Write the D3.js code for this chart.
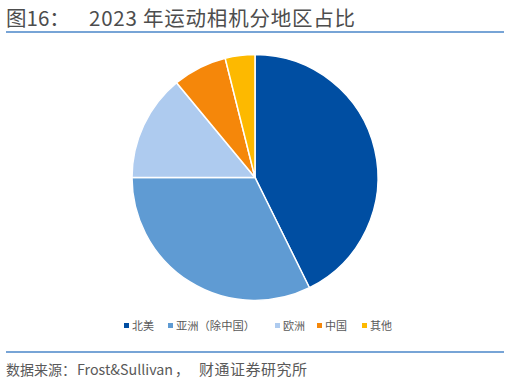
<!DOCTYPE html>
<html>
<head>
<meta charset="utf-8">
<script src="https://cdn.jsdelivr.net/npm/d3@7"></script>
<style>
  body { margin: 0; background: #fff; }
  text { font-family: "Noto Sans CJK SC", "Noto Sans", sans-serif; }
</style>
</head>
<body>
<div id="vis"></div>
<script>
var regions = ['北美', '亚洲（除中国）', '欧洲', '中国', '其他'];
var shares = [42.7, 32.3, 14.0, 7.1, 3.9];
var colors = ['#004ea2', '#5f9bd3', '#aecbef', '#f5870a', '#fdb900'];

var width = 510, height = 382;
var svg = d3.select('#vis').append('svg')
    .attr('width', width)
    .attr('height', height);

// title
var title = svg.append('text')
    .attr('y', 26)
    .attr('fill', '#4d4d4d')
    .style('font-size', '20.5px');
title.append('tspan').attr('x', 6).text('图16：');
title.append('tspan').attr('x', 89)
    .attr('textLength', 266).attr('lengthAdjust', 'spacing')
    .text('2023 年运动相机分地区占比');

svg.append('line')
    .attr('x1', 6).attr('x2', 504)
    .attr('y1', 32).attr('y2', 32)
    .attr('stroke', '#4a86c8').attr('stroke-width', 1.5);

// pie
var data = regions.map(function(r, i) { return { name: r, value: shares[i], color: colors[i] }; });
var pie = d3.pie().sort(null).value(function(d) { return d.value; });
var arc = d3.arc().innerRadius(0).outerRadius(123);

var g = svg.append('g').attr('transform', 'translate(255,177.5)');
g.selectAll('path').data(pie(data)).enter().append('path')
    .attr('d', arc)
    .attr('fill', function(d) { return d.data.color; })
    .attr('stroke', '#fff')
    .attr('stroke-width', 1.5);

// legend
var legendX = [124, 168, 275, 317, 362];
var lg = svg.append('g').selectAll('g').data(data).enter().append('g')
    .attr('transform', function(d, i) { return 'translate(' + legendX[i] + ',326)'; });
lg.append('rect')
    .attr('x', 0).attr('y', -3)
    .attr('width', 5).attr('height', 5)
    .attr('fill', function(d) { return d.color; });
lg.append('text')
    .attr('x', 8).attr('y', 4)
    .attr('fill', '#595959')
    .style('font-size', '11px')
    .attr('textLength', function(d) { return d.name.length > 2 ? 79 : null; })
    .attr('lengthAdjust', 'spacingAndGlyphs')
    .text(function(d) { return d.name; });

// footer
svg.append('line')
    .attr('x1', 6).attr('x2', 504)
    .attr('y1', 352).attr('y2', 352)
    .attr('stroke', '#4a86c8').attr('stroke-width', 1.5);

var foot = svg.append('text')
    .attr('y', 375)
    .attr('fill', '#595959')
    .style('font-size', '14px');
foot.append('tspan').attr('x', 6)
    .attr('textLength', 70).attr('lengthAdjust', 'spacing')
    .text('数据来源：');
foot.append('tspan').attr('x', 77)
    .attr('textLength', 96).attr('lengthAdjust', 'spacingAndGlyphs')
    .text('Frost&Sullivan');
foot.append('tspan').attr('x', 175).text('，');
foot.append('tspan').attr('x', 199)
    .style('font-size', '15px')
    .attr('textLength', 108).attr('lengthAdjust', 'spacing')
    .text('财通证券研究所');
</script>
</body>
</html>
